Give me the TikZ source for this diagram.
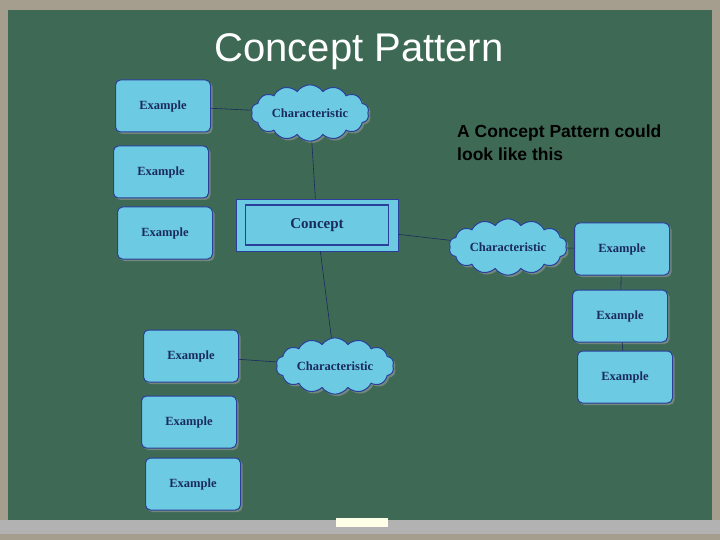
\documentclass[tikz,border=0pt]{standalone}
\usepackage{fontspec}
\setmainfont{Liberation Serif}
\newfontfamily\arial{Liberation Sans}
\usetikzlibrary{shapes.symbols,shadows}
\definecolor{board}{HTML}{3E6A55}
\definecolor{frame}{HTML}{A59E8E}
\definecolor{boxfill}{HTML}{6CCBE2}
\definecolor{boxline}{HTML}{2A3E9A}
\definecolor{ink}{HTML}{1B2A5C}
\tikzset{
 ex/.style={draw=boxline,line width=1pt,fill=boxfill,rounded corners=5pt,minimum width=95pt,minimum height=52pt,font=\bfseries\fontsize{12.5}{14}\selectfont,text=ink,drop shadow={shadow xshift=2pt,shadow yshift=-2pt,fill=gray!70}},
 ch/.style={cloud,cloud puffs=14,cloud puff arc=110,aspect=2.4,draw=boxline,line width=1pt,fill=boxfill,font=\bfseries\fontsize{12.5}{14}\selectfont,text=ink,minimum width=118pt,minimum height=55pt,inner sep=0pt,drop shadow={shadow xshift=2pt,shadow yshift=-2pt,fill=gray!70}},
 con/.style={draw=ink,line width=0.6pt}
}
\begin{document}
\begin{tikzpicture}[x=1pt,y=-1pt]
\useasboundingbox (0,0) rectangle (720,540);
\fill[frame] (0,0) rectangle (720,540);
\fill[board] (8,10) rectangle (712,520);
\fill[gray!60] (0,520) rectangle (720,534);
\fill[white!90!yellow] (336,518) rectangle (388,527);
\node[text=white,font=\arial\fontsize{40}{44}\selectfont] (title) at (359,52) {Concept Pattern};
\node[anchor=north west,align=left,font=\arial\bfseries\fontsize{17.5}{23}\selectfont,inner sep=0pt] (note) at (457,125) {A Concept Pattern could\\look like this};
\node[ex] (e1) at (163,106) {Example};
\node[ex] (e2) at (161,172) {Example};
\node[ex] (e3) at (165,233) {Example};
\node[ch] (c1) at (310,113) {Characteristic};
\node[draw=boxline,fill=boxfill,minimum width=162pt,minimum height=52pt,line width=0.8pt] (cout) at (317,225) {};
\node[draw=boxline,line width=1.2pt,minimum width=143pt,minimum height=40pt,font=\bfseries\fontsize{15}{17}\selectfont,text=ink] (concept) at (317,225) {Concept};
\node[ch] (c2) at (508,247) {Characteristic};
\node[ex] (e4) at (622,249) {Example};
\node[ex] (e5) at (620,316) {Example};
\node[ex] (e6) at (625,377) {Example};
\node[ch] (c3) at (335,366) {Characteristic};
\node[ex] (e7) at (191,356) {Example};
\node[ex] (e8) at (189,422) {Example};
\node[ex] (e9) at (193,484) {Example};
\draw[con] (e1) -- (c1);
\draw[con] (c1) -- (cout);
\draw[con] (cout) -- (c2);
\draw[con] (c2) -- (e4);
\draw[con] (e4) -- (e5);
\draw[con] (e5) -- (e6);
\draw[con] (cout) -- (c3);
\draw[con] (c3) -- (e7);
\end{tikzpicture}
\end{document}
